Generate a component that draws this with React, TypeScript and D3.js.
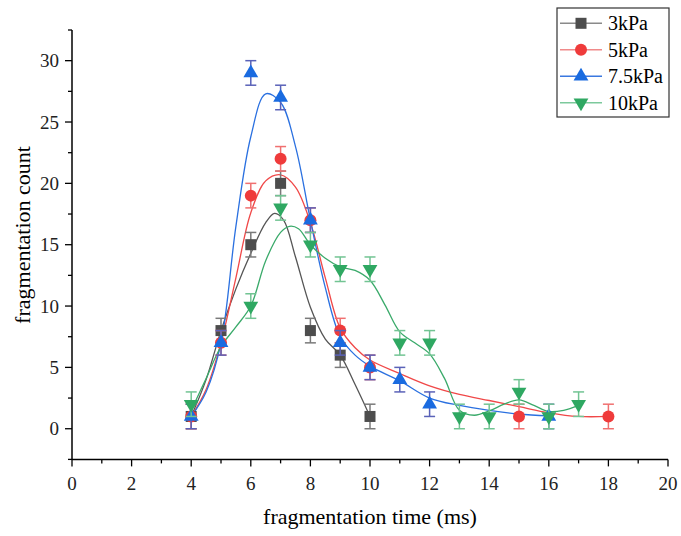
import React from "react";
import * as d3 from "d3";

// ---------- data ----------
const seriesNames = ["3kPa", "5kPa", "7.5kPa", "10kPa"];

const x3 = [4, 5, 6, 7, 8, 9, 10];
const y3 = [1, 8, 15, 20, 8, 6, 1];

const x5 = [4, 5, 6, 7, 8, 9, 10, 15, 18];
const y5 = [1, 7, 19, 22, 17, 8, 5, 1, 1];

const x75 = [4, 5, 6, 7, 8, 9, 10, 11, 12, 16];
const y75 = [1, 7, 29, 27, 17, 7, 5, 4, 2, 1];

const x10 = [4, 6, 7, 8, 9, 10, 11, 12, 13, 14, 15, 16, 17];
const y10 = [2, 10, 18, 15, 13, 13, 7, 7, 1, 1, 3, 1, 2];

const errorValue = 1;

// fitted curves
const fit3x = [4, 4.5, 5, 5.5, 6, 6.5, 6.8, 7.1, 7.5, 8, 8.5, 9, 9.5, 10];
const fit3y = [1.0, 4.0, 8.0, 11.4, 14.3, 16.8, 17.55, 17.0, 14.0, 9.9, 7.3, 6.0, 3.6, 1.0];

const fit5x = [4, 4.5, 5, 5.5, 6, 6.5, 7, 7.5, 8, 8.5, 9, 9.5, 10, 11, 12, 13, 14, 15, 16, 17, 18];
const fit5y = [1.0, 3.2, 7.0, 12.3, 17.6, 20.2, 20.7, 19.7, 16.8, 12.3, 8.2, 6.6, 5.6, 4.5, 3.5, 2.8, 2.3, 1.8, 1.3, 1.0, 1.0];

const fit75x = [4, 4.5, 5, 5.5, 6, 6.5, 7, 7.5, 8, 8.5, 9, 9.5, 10, 11, 12, 13, 14, 15, 16];
const fit75y = [1.0, 3.0, 7.0, 16.5, 23.8, 27.3, 26.6, 23.0, 17.0, 11.5, 7.5, 6.0, 5.1, 3.9, 2.5, 1.9, 1.5, 1.2, 1.05];

const fit10x = [4, 4.5, 5, 5.5, 6, 6.5, 7, 7.3, 7.6, 8, 8.5, 9, 9.5, 10, 10.5, 11, 11.5, 12, 12.5, 13, 13.5, 14, 14.5, 15, 15.5, 16, 16.5, 17];
const fit10y = [1.5, 4.1, 6.7, 8.3, 10.0, 13.7, 16.0, 16.5, 16.3, 15.0, 13.9, 13.2, 12.9, 12.1, 10.1, 7.9, 7.0, 6.1, 4.1, 1.5, 1.1, 1.45, 2.0, 2.35, 1.9, 1.4, 1.5, 1.9];

const xTicks = [0, 2, 4, 6, 8, 10, 12, 14, 16, 18, 20];
const yTicks = [0, 5, 10, 15, 20, 25, 30];

// ---------- styles ----------
const markerColors = ["#4d4d4d", "#ef3b3b", "#1a6be0", "#2fa862"];
const curveColors = ["#555555", "#f04848", "#2a70e0", "#3aaa6a"];
const barColors = ["#7a7a7a", "#f07070", "#5a62b8", "#72c493"];
const legendLineColors = ["#8a8a8a", "#f08a8a", "#3a78e0", "#7cc99c"];
const shapes = ["square", "circle", "up", "down"];

const W = 681;
const H = 536;
const FONT = "'Liberation Serif', 'Times New Roman', serif";

const xs = d3.scaleLinear().domain([0, 20]).range([72, 668]);
const ys = d3.scaleLinear().domain([-2.5, 32.5]).range([459.4, 30]);

function Marker({ shape, cx, cy, color, s = 1 }: { shape: string; cx: number; cy: number; color: string; s?: number }) {
  if (shape === "square") {
    const h = 5.5 * s;
    return <rect x={cx - h} y={cy - h} width={2 * h} height={2 * h} fill={color} />;
  }
  if (shape === "circle") {
    return <circle cx={cx} cy={cy} r={6 * s} fill={color} />;
  }
  const sym = d3.symbol().type(d3.symbolTriangle).size(95 * s * s)();
  const rot = shape === "down" ? 180 : 0;
  return <path d={sym || ""} transform={`translate(${cx},${cy}) rotate(${rot})`} fill={color} />;
}

export default function App() {
  const pts = [
    [x3, y3],
    [x5, y5],
    [x75, y75],
    [x10, y10],
  ];
  const fits = [
    [fit3x, fit3y],
    [fit5x, fit5y],
    [fit75x, fit75y],
    [fit10x, fit10y],
  ];
  const line = d3
    .line<[number, number]>()
    .x((d) => xs(d[0]))
    .y((d) => ys(d[1]))
    .curve(d3.curveCatmullRom.alpha(0.5));

  const xMinor = d3.range(0, 21, 1);
  const yMinor = d3.range(-2.5, 32.6, 2.5);

  return (
    <div style={{ position: "absolute", left: 0, top: 0 }}>
      <svg width={W} height={H} style={{ display: "block", background: "#fff" }} fontFamily={FONT}>
        <rect x={0} y={0} width={W} height={H} fill="#fff" />
        {/* curves */}
        {fits.map((f, i) => (
          <path
            key={"fit" + i}
            d={line(f[0].map((v, k) => [v, f[1][k]] as [number, number])) || ""}
            fill="none"
            stroke={curveColors[i]}
            strokeWidth={1.3}
          />
        ))}
        {/* error bars + markers */}
        {pts.map((p, i) => (
          <g key={"s" + i}>
            {p[0].map((xv, k) => {
              const cx = xs(xv);
              const yv = p[1][k];
              const y1 = ys(yv + errorValue);
              const y2 = ys(yv - errorValue);
              return (
                <g key={k}>
                  <line x1={cx} x2={cx} y1={y1} y2={y2} stroke={barColors[i]} strokeWidth={1.5} />
                  <line x1={cx - 5.5} x2={cx + 5.5} y1={y1} y2={y1} stroke={barColors[i]} strokeWidth={1.5} />
                  <line x1={cx - 5.5} x2={cx + 5.5} y1={y2} y2={y2} stroke={barColors[i]} strokeWidth={1.5} />
                  <Marker shape={shapes[i]} cx={cx} cy={ys(yv)} color={markerColors[i]} />
                </g>
              );
            })}
          </g>
        ))}
        {/* axes */}
        <line x1={xs(0)} x2={xs(0)} y1={ys(-2.5)} y2={ys(32.5)} stroke="#000" strokeWidth={1.5} />
        <line x1={xs(0)} x2={xs(20)} y1={ys(-2.5)} y2={ys(-2.5)} stroke="#000" strokeWidth={1.5} />
        {xMinor.map((v) => (
          <line
            key={"xm" + v}
            x1={xs(v)}
            x2={xs(v)}
            y1={ys(-2.5)}
            y2={ys(-2.5) + (v % 2 === 0 ? 7 : 4)}
            stroke="#000"
            strokeWidth={1.3}
          />
        ))}
        {yMinor.map((v) => (
          <line
            key={"ym" + v}
            x1={xs(0) - (v % 5 === 0 ? 7 : 4)}
            x2={xs(0)}
            y1={ys(v)}
            y2={ys(v)}
            stroke="#000"
            strokeWidth={1.3}
          />
        ))}
        {xTicks.map((v) => (
          <text key={"xt" + v} x={xs(v)} y={490} textAnchor="middle" fontSize={19} fill="#222">
            {v}
          </text>
        ))}
        {yTicks.map((v) => (
          <text key={"yt" + v} x={59} y={ys(v) + 6.5} textAnchor="end" fontSize={19} fill="#222">
            {v}
          </text>
        ))}
        <text x={370} y={524} textAnchor="middle" fontSize={22} fill="#000">
          fragmentation time (ms)
        </text>
        <text transform={`translate(30,235) rotate(-90)`} textAnchor="middle" fontSize={22} fill="#000">
          fragmentation count
        </text>
        {/* legend */}
        <rect x={557} y={8} width={112} height={109} fill="#fff" stroke="#333" strokeWidth={1.2} />
        {seriesNames.map((n, i) => {
          const cy = 23.3 + i * 26.5;
          return (
            <g key={"lg" + i}>
              <line x1={560} x2={602} y1={cy} y2={cy} stroke={legendLineColors[i]} strokeWidth={1.5} />
              <Marker shape={shapes[i]} cx={581} cy={cy} color={markerColors[i]} />
              <text x={608} y={cy + 7} fontSize={20} fill="#000">
                {n}
              </text>
            </g>
          );
        })}
      </svg>
    </div>
  );
}
